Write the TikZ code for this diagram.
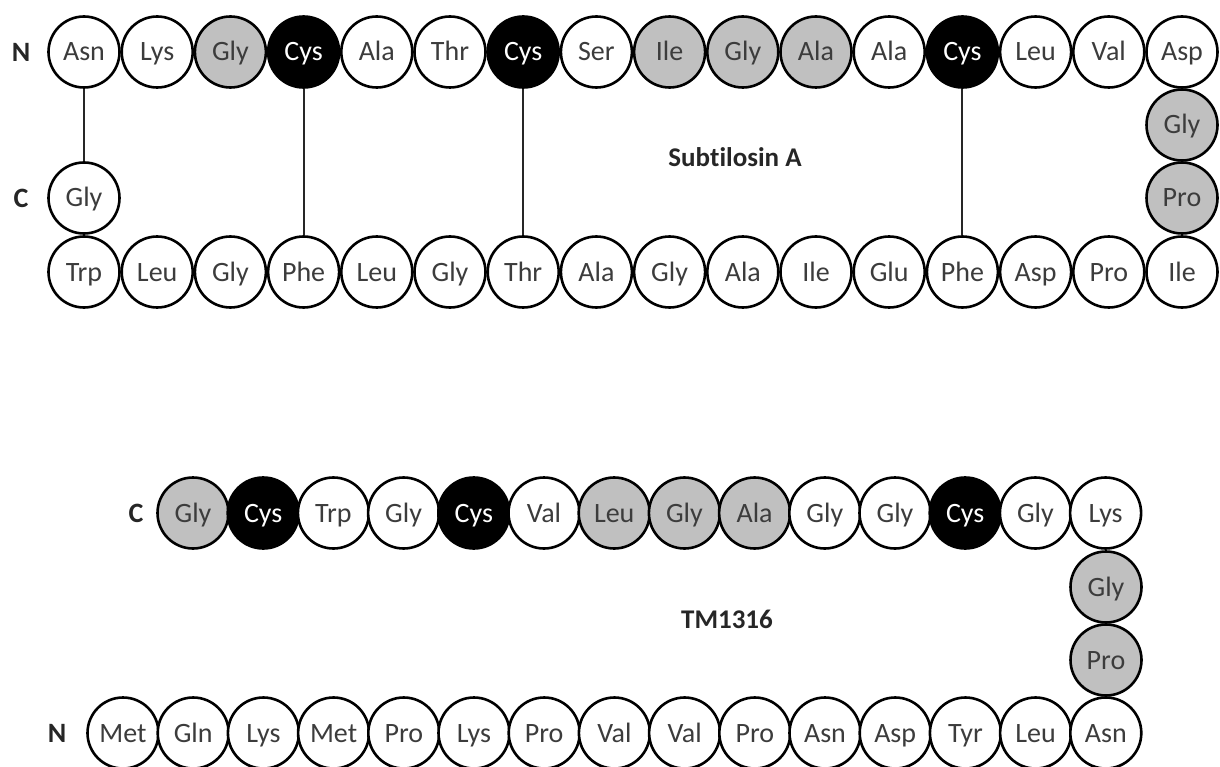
\documentclass[tikz,border=0pt]{standalone}
\usepackage{fontspec}
\setmainfont{Carlito}[Ligatures=NoCommon]
\definecolor{cgray}{RGB}{192,192,192}
\definecolor{tgray}{RGB}{60,60,60}
\definecolor{lgray}{RGB}{38,38,38}
\begin{document}
\begin{tikzpicture}[x=1pt,y=-1pt,
  res/.style={circle, draw=black, line width=2.6pt, minimum size=71pt,
    inner sep=0pt, text height=18pt, text depth=0pt,
    font=\fontsize{28}{30}\selectfont},
  term/.style={font=\fontsize{28}{30}\selectfont\bfseries, text=lgray},
  title/.style={font=\fontsize{27}{30}\selectfont\bfseries, text=lgray},
  link/.style={line width=2pt, draw=black!85}]
\useasboundingbox (0,0) rectangle (1220,767);
\clip (0,0) rectangle (1220,767);

% ---------------- Subtilosin A ----------------
% top strand, N-terminus on the left
\foreach \t/\f/\c [count=\i] in {Asn/white/tgray, Lys/white/tgray, Gly/cgray/tgray,
    Cys/black/white, Ala/white/tgray, Thr/white/tgray, Cys/black/white,
    Ser/white/tgray, Ile/cgray/tgray, Gly/cgray/tgray, Ala/cgray/tgray,
    Ala/white/tgray, Cys/black/white, Leu/white/tgray, Val/white/tgray,
    Asp/white/tgray}
  \node[res, fill=\f, text=\c] (s\i) at ({84+73.2*(\i-1)},52) {\t};
% turn on the right
\node[res, fill=cgray, text=tgray] (sr1) at (1182,125) {Gly};
\node[res, fill=cgray, text=tgray] (sr2) at (1182,198) {Pro};
% bottom strand
\foreach \t [count=\i] in {Trp, Leu, Gly, Phe, Leu, Gly, Thr, Ala, Gly, Ala,
    Ile, Glu, Phe, Asp, Pro, Ile}
  \node[res, fill=white, text=tgray] (b\i) at ({84+73.2*(\i-1)},272) {\t};
% C-terminal residue
\node[res, fill=white, text=tgray] (sc) at (84,198) {Gly};

% cross-links
\draw[link] (s1.south) -- (sc.north);
\draw[link] (s4.south) -- (b4.north);
\draw[link] (s7.south) -- (b7.north);
\draw[link] (s13.south) -- (b13.north);

\node[term] (sN) at (21,52) {N};
\node[term] (sC) at (21,198) {C};
\node[title] (stitle) at (735,157) {Subtilosin A};

% ---------------- TM1316 ----------------
\foreach \t/\f/\c [count=\i] in {Gly/cgray/tgray, Cys/black/white, Trp/white/tgray,
    Gly/white/tgray, Cys/black/white, Val/white/tgray, Leu/cgray/tgray,
    Gly/cgray/tgray, Ala/cgray/tgray, Gly/white/tgray, Gly/white/tgray,
    Cys/black/white, Gly/white/tgray, Lys/white/tgray}
  \node[res, fill=\f, text=\c] (t\i) at ({193+70.2*(\i-1)},513) {\t};
\node[res, fill=cgray, text=tgray] (tr1) at (1106,587) {Gly};
\node[res, fill=cgray, text=tgray] (tr2) at (1106,660) {Pro};
\foreach \t [count=\i] in {Met, Gln, Lys, Met, Pro, Lys, Pro, Val, Val, Pro,
    Asn, Asp, Tyr, Leu, Asn}
  \node[res, fill=white, text=tgray] (u\i) at ({123+70.2*(\i-1)},733) {\t};

\node[term] (tC) at (136,513) {C};
\node[term] (tN) at (57,733) {N};
\node[title] (ttitle) at (727,619) {TM1316};
\end{tikzpicture}
\end{document}
